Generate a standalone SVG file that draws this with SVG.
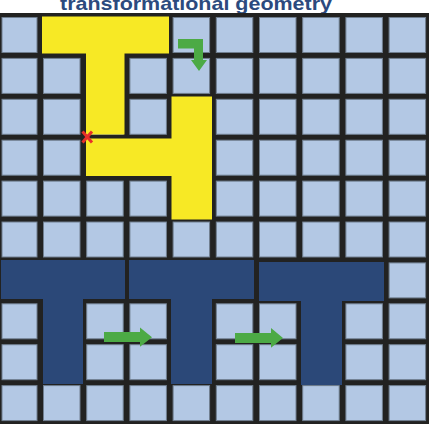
<svg xmlns="http://www.w3.org/2000/svg" xmlns:xlink="http://www.w3.org/1999/xlink" width="445" height="430" viewBox="0 0 445 430">
<style>
.c{fill:#b3c8e4;stroke:#707f90;stroke-width:1}
.y{fill:#f7e925}
.n{fill:#2b4878}
.g{fill:#4caa45}
.t{font-family:"Liberation Sans",Arial,sans-serif;font-weight:bold;font-size:19px;fill:#2c4a7e}
</style>
<defs>
<g id="row">
<rect class="c" x="2" y="0" width="35" height="35"/>
<rect class="c" x="43.5" y="0" width="36.5" height="35"/>
<rect class="c" x="86.7" y="0" width="36.5" height="35"/>
<rect class="c" x="129.9" y="0" width="36.5" height="35"/>
<rect class="c" x="173.1" y="0" width="36.5" height="35"/>
<rect class="c" x="216.3" y="0" width="36.5" height="35"/>
<rect class="c" x="259.5" y="0" width="36.5" height="35"/>
<rect class="c" x="302.7" y="0" width="36.5" height="35"/>
<rect class="c" x="345.9" y="0" width="36.5" height="35"/>
<rect class="c" x="389.1" y="0" width="36.5" height="35"/>
</g>
</defs>
<rect width="445" height="430" fill="#ffffff"/>
<text class="t" x="196" y="9.5" text-anchor="middle" textLength="272" lengthAdjust="spacingAndGlyphs">transformational geometry</text>
<g id="grid">
<rect x="0" y="13" width="429" height="411" fill="#222221"/>
<use xlink:href="#row" href="#row" y="17.5"/>
<use xlink:href="#row" href="#row" y="58.4"/>
<use xlink:href="#row" href="#row" y="99.3"/>
<use xlink:href="#row" href="#row" y="140.2"/>
<use xlink:href="#row" href="#row" y="181.1"/>
<use xlink:href="#row" href="#row" y="222"/>
<use xlink:href="#row" href="#row" y="262.9"/>
<use xlink:href="#row" href="#row" y="303.8"/>
<use xlink:href="#row" href="#row" y="344.7"/>
<use xlink:href="#row" href="#row" y="385.6"/>
</g>
<g id="yellow-original">
<polygon class="y" points="42,16.5 169,16.5 169,53.5 124.5,53.5 124.5,134.5 86,134.5 86,53.5 42,53.5"/>
</g>
<g id="yellow-rotated">
<polygon class="y" points="86,138.5 171.5,138.5 171.5,96.5 212,96.5 212,219.5 171.5,219.5 171.5,176 86,176"/>
</g>
<g id="navy-t1">
<polygon class="n" points="1,260 125,260 125,299 83,299 83,384 43,384 43,299 1,299"/>
</g>
<g id="navy-t2">
<polygon class="n" points="129,260 254,260 254,299 212,299 212,384 171,384 171,299 129,299"/>
</g>
<g id="navy-t3">
<polygon class="n" points="259,262 384,262 384,301 342,301 342,385 301,385 301,301 259,301"/>
</g>
<g id="connectors">
<path class="g" d="M178,39 H203 V60 H207 L199,71 L191,60 H194 V48.5 H178 Z"/>
<path class="g" d="M104,332 H140 V327.5 L152,337.2 L140,346.8 V342 H104 Z"/>
<path class="g" d="M235,333 H271 V328 L283,338 L271,347.8 V343 H235 Z"/>
</g>
<g id="pivot" stroke="#e8302a" stroke-width="3" stroke-linecap="butt">
<line x1="82.5" y1="131.5" x2="92" y2="142.5"/>
<line x1="92" y1="131.5" x2="82.5" y2="142.5"/>
</g>
</svg>
